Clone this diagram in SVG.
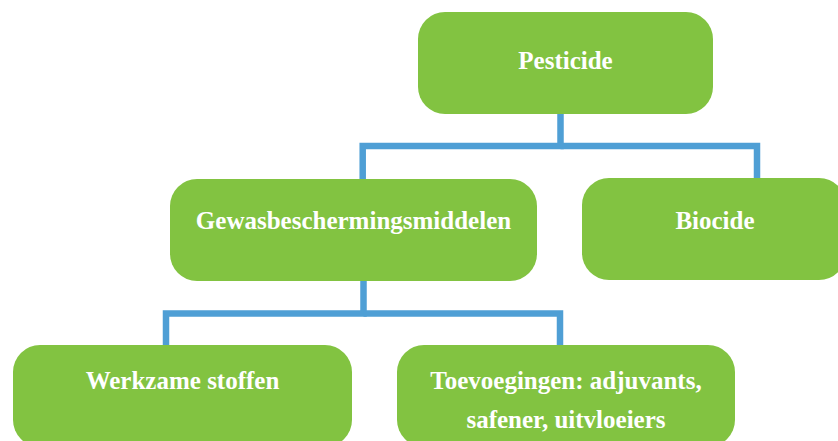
<svg xmlns="http://www.w3.org/2000/svg" width="838" height="441" viewBox="0 0 838 441">
  <style>
    .box { fill: #82C341; }
    .lbl { font-family: "Liberation Serif", "Times New Roman", serif; font-weight: bold; font-size: 25px; fill: #FFFFFF; text-anchor: middle; }
    .conn { fill: none; stroke: #4F9FD5; stroke-width: 6.5; stroke-linejoin: miter; stroke-linecap: butt; }
  </style>
  <rect width="838" height="441" fill="#FFFFFF"/>
  <g id="connectors">
    <polyline class="conn" points="560.5,114 560.5,146 362.7,146 362.7,179"/>
    <polyline class="conn" points="560.5,146 757,146 757,179"/>
    <polyline class="conn" points="363.5,281 363.5,313.5 166,313.5 166,345"/>
    <polyline class="conn" points="363.5,313.5 560,313.5 560,345"/>
  </g>
  <g id="pesticide">
    <rect class="box" x="418" y="12" width="295" height="102" rx="27" ry="27"/>
    <text class="lbl" x="565.5" y="69">Pesticide</text>
  </g>
  <g id="gewasbeschermingsmiddelen">
    <rect class="box" x="170" y="179" width="367" height="102" rx="27" ry="27"/>
    <text class="lbl" x="353.5" y="229">Gewasbeschermingsmiddelen</text>
  </g>
  <g id="biocide">
    <rect class="box" x="582" y="178" width="264" height="102" rx="27" ry="27"/>
    <text class="lbl" x="715" y="229">Biocide</text>
  </g>
  <g id="werkzame-stoffen">
    <rect class="box" x="13" y="345" width="339" height="102" rx="27" ry="27"/>
    <text class="lbl" x="182.5" y="389">Werkzame stoffen</text>
  </g>
  <g id="toevoegingen">
    <rect class="box" x="397" y="345" width="338" height="102" rx="27" ry="27"/>
    <text class="lbl" x="566" y="389">Toevoegingen: adjuvants,</text>
    <text class="lbl" x="566" y="428">safener, uitvloeiers</text>
  </g>
</svg>
